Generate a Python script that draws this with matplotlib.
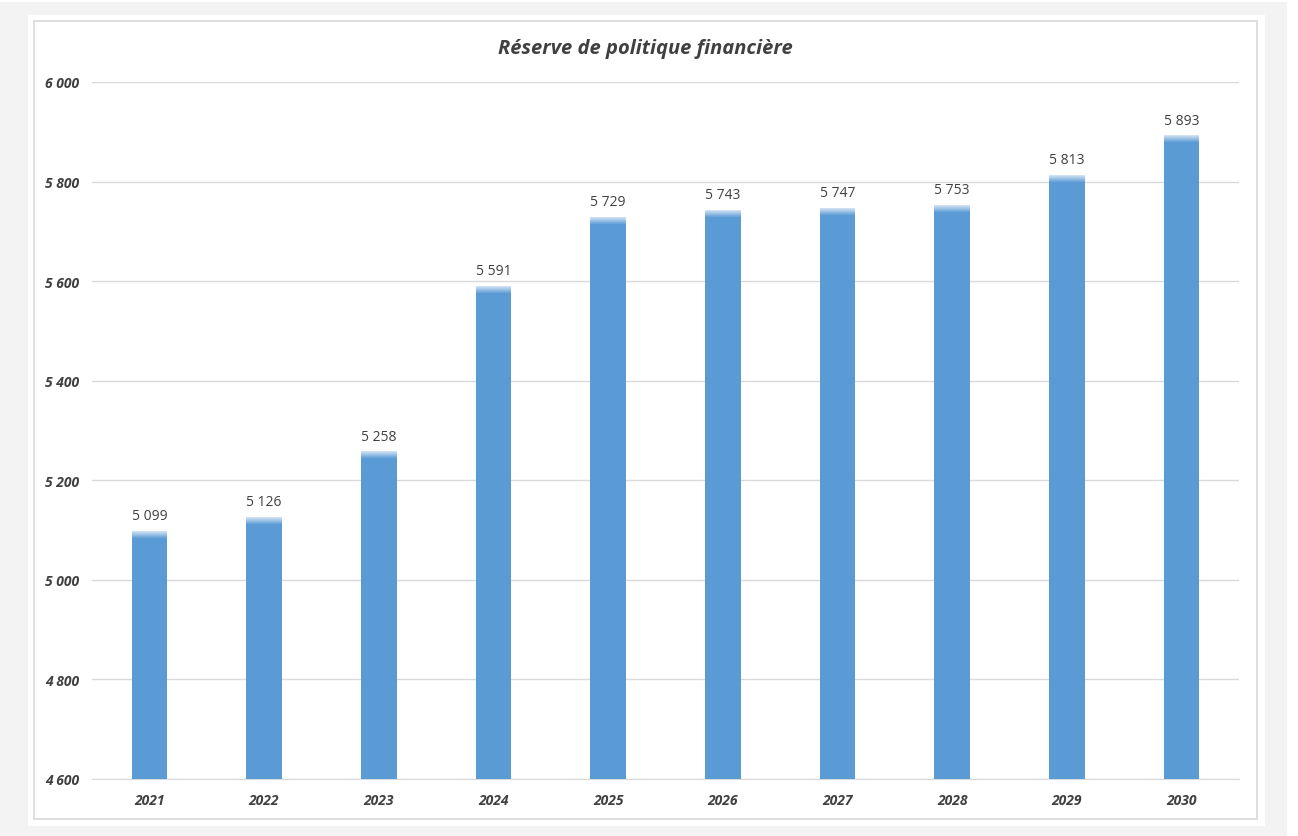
import matplotlib
matplotlib.use("Agg")
import matplotlib.pyplot as plt
from matplotlib.patches import Rectangle
from matplotlib.ticker import FuncFormatter

plt.rcParams["font.family"] = ["Open Sans", "DejaVu Sans"]

years = ["2021", "2022", "2023", "2024", "2025", "2026", "2027", "2028", "2029", "2030"]
values = [5099, 5126, 5258, 5591, 5729, 5743, 5747, 5753, 5813, 5893]
y_ticks = [4600, 4800, 5000, 5200, 5400, 5600, 5800, 6000]
title = "Réserve de politique financière"

W, H = 1298, 837
fig = plt.figure(figsize=(W / 100, H / 100), dpi=100)
fig.patch.set_facecolor("white")


def px_rect(x0, y0, x1, y1, **kw):
    # rectangle in pixel coords (origin top-left)
    fig.patches.append(Rectangle((x0 / W, 1 - y1 / H), (x1 - x0) / W, (y1 - y0) / H,
                                 transform=fig.transFigure, figure=fig, **kw))


px_rect(0, 3, 1287, H, facecolor="#f3f3f3", edgecolor="none", zorder=-3)
px_rect(28, 16, 1265, 827, facecolor="white", edgecolor="none", zorder=-2)
px_rect(34, 22, 1257, 820, facecolor="white", edgecolor="#d9d9d9", linewidth=1.2, zorder=-1)

ax = fig.add_axes([92 / W, 1 - 780 / H, (1239 - 92) / W, (780 - 83) / H])
ax.set_facecolor("none")
ax.set_zorder(2)

x = range(len(years))
bar_w = 0.31
color = "#5b9bd5"
ax.bar(x, [v - y_ticks[0] for v in values], bottom=y_ticks[0], width=bar_w,
       color=color, zorder=3)

# light highlight at the top of each bar
band = 14
steps = 7
for i in range(steps):
    a = 0.7 * (1 - i / steps)
    ax.bar(x, band / steps, bottom=[v - band / steps * (i + 1) for v in values],
           width=bar_w, color="white", alpha=a, linewidth=0, zorder=4)

for xi, v in zip(x, values):
    ax.annotate(f"{v:,}".replace(",", " "), (xi, v), xytext=(0, 5.5),
                textcoords="offset points", ha="center", va="bottom",
                fontsize=10, color="#404040")

ax.set_ylim(y_ticks[0], y_ticks[-1])
ax.set_xlim(-0.5, len(years) - 0.5)
ax.set_yticks(y_ticks)
ax.yaxis.set_major_formatter(FuncFormatter(lambda v, p: f"{int(v):,}".replace(",", " ")))
ax.set_xticks(list(x))
ax.set_xticklabels(years)
for lab in ax.get_xticklabels() + ax.get_yticklabels():
    lab.set_fontweight("bold")
    lab.set_fontstyle("italic")
    lab.set_fontsize(10)
    lab.set_color("#404040")

ax.grid(axis="y", color="#d9d9d9", linewidth=1, zorder=0)
ax.set_axisbelow(True)
for s in ["top", "right", "left"]:
    ax.spines[s].set_visible(False)
ax.spines["bottom"].set_color("#d9d9d9")
ax.tick_params(axis="both", length=0)
ax.tick_params(axis="y", pad=34)
ax.tick_params(axis="x", pad=10)
for lab in ax.get_yticklabels():
    lab.set_horizontalalignment("left")

fig.text(645 / W, 1 - 49 / H, title, ha="center", va="center", fontsize=14.5,
         fontweight="bold", fontstyle="italic", color="#404040")

fig.savefig("out.png", dpi=100, facecolor=fig.get_facecolor())
